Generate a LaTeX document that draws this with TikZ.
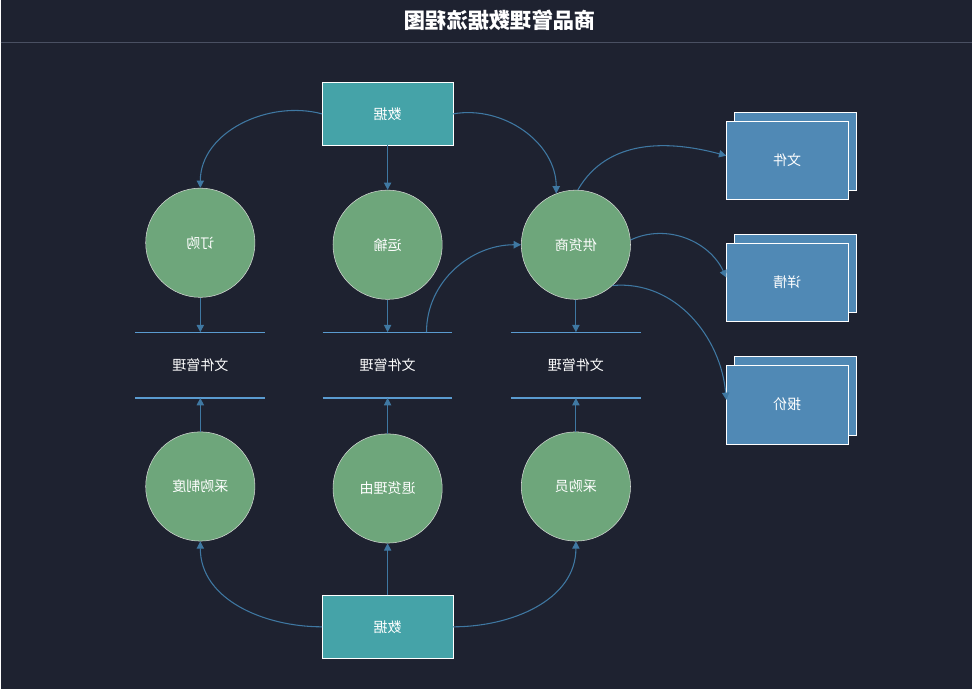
\documentclass[tikz,border=0pt]{standalone}
\usepackage{fontspec}
\setmainfont{Noto Sans CJK SC}
\usepackage{graphicx}
\usetikzlibrary{arrows.meta}
\definecolor{bgnavy}{HTML}{1E2230}
\definecolor{rulegray}{HTML}{4A5062}
\definecolor{boxteal}{HTML}{45A3A8}
\definecolor{procgreen}{HTML}{6EA67B}
\definecolor{rimgray}{HTML}{D4D8D4}
\definecolor{flowblue}{HTML}{3F78A2}
\definecolor{storeblue}{HTML}{5A9BD0}
\definecolor{docblue}{HTML}{5089B5}
\newcommand{\flip}[1]{\reflectbox{#1}}
\begin{document}
\begin{tikzpicture}[x=0.75pt, y=-0.75pt,
    every node/.style={text=white, font=\fontsize{10.5}{12}\selectfont},
    src/.style = {draw=white, fill=boxteal, minimum width=98pt, minimum height=47pt, inner sep=0pt},
    proc/.style = {draw=rimgray, fill=procgreen, circle, minimum size=82pt, inner sep=0pt},
    store/.style = {minimum width=97pt, minimum height=49pt, inner sep=0pt},
    doc/.style = {draw=white, fill=docblue, minimum width=91pt, minimum height=59pt, inner sep=0pt},
    flow/.style = {draw=flowblue, line width=0.8pt, -{Triangle[length=5.5pt,width=5.5pt]}}]
    \fill[bgnavy] (0,0) rectangle (973,690);
    \node (title) at (500,20) {\fontsize{16}{19}\selectfont\bfseries\flip{商品管理数据流程图}};
    \draw[rulegray, line width=0.8pt] (0,43) -- (973,43);
    % sources
    \node[src] (d1) at (387.5,114) {\flip{数据}};
    \node[src] (d2) at (387.5,627.5) {\flip{数据}};
    % processes
    \node[proc] (o1) at (200,243) {\flip{订购}};
    \node[proc] (o2) at (387.5,245) {\flip{运输}};
    \node[proc] (o3) at (576,245) {\flip{供货商}};
    \node[proc] (o4) at (200,487) {\flip{采购制度}};
    \node[proc] (o5) at (387.5,489) {\flip{退货理由}};
    \node[proc] (o6) at (576,487) {\flip{采购员}};
    % stores
    \node[store] (s1) at (200,365.5) {\flip{文件管理}};
    \node[store] (s2) at (387.5,365.5) {\flip{文件管理}};
    \node[store] (s3) at (576,365.5) {\flip{文件管理}};
    \foreach \s in {s1,s2,s3} {
        \draw[storeblue, line width=1pt] (\s.north west) -- (\s.north east);
        \draw[storeblue, line width=1pt] (\s.south west) -- (\s.south east);
    }
    % documents
    \node[doc] (b1) at (795.5,151.5) {};
    \node[doc] (f1) at (787.5,160.5) {\flip{文件}};
    \node[doc] (b2) at (795.5,273.5) {};
    \node[doc] (f2) at (787.5,282.5) {\flip{详情}};
    \node[doc] (b3) at (795.5,396) {};
    \node[doc] (f3) at (787.5,405) {\flip{报价}};
    % flows
    \draw[flow] (d1.west) to[out=165, in=90] (o1.north);
    \draw[flow] (d1.south) -- (o2.north);
    \draw[flow] (d1.east) to[out=10, in=90] (o3.111);
    \draw[flow] (o1.south) -- (s1.north);
    \draw[flow] (o2.south) -- (s2.north);
    \draw[flow] (o3.south) -- (s3.north);
    \draw[flow] (o4.north) -- (s1.south);
    \draw[flow] (o5.north) -- (s2.south);
    \draw[flow] (o6.north) -- (s3.south);
    \draw[flow] (d2.west) to[out=180, in=-90] (o4.south);
    \draw[flow] (d2.north) -- (o5.south);
    \draw[flow] (d2.east) to[out=0, in=-90] (o6.south);
    \draw[flow] ([xshift=-19.5pt]s2.north east) to[out=90, in=180] (o3.west);
    \draw[flow] (o3.88) to[out=60, in=165] ([yshift=3.5pt]f1.west);
    \draw[flow] (o3.5) to[out=25, in=115] ([yshift=3.5pt]f2.west);
    \draw[flow] (o3.-48) to[out=5, in=95] ([yshift=3.5pt]f3.west);
\end{tikzpicture}
\end{document}
